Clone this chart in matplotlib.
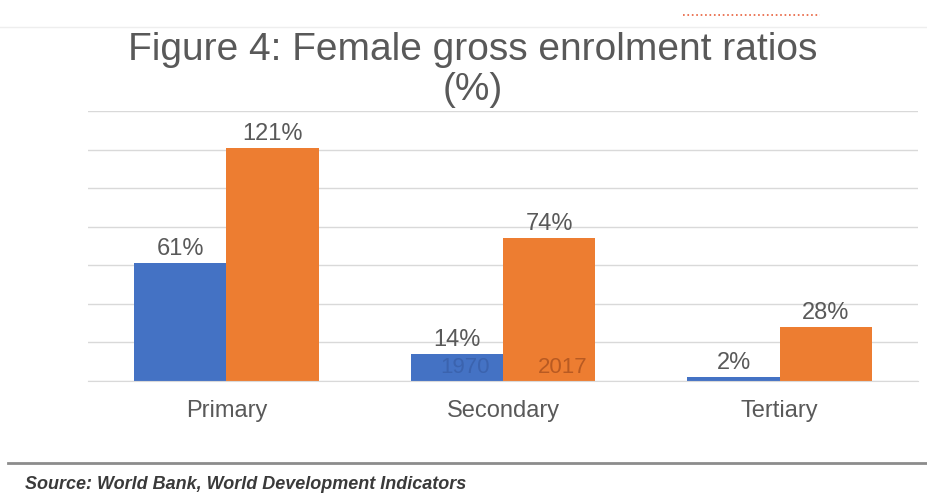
import numpy as np
import matplotlib.pyplot as plt
from matplotlib.lines import Line2D

plt.rcParams['font.family'] = ['Liberation Sans', 'DejaVu Sans']

categories = ['Primary', 'Secondary', 'Tertiary']
vals_1970 = [61, 14, 2]
vals_2017 = [121, 74, 28]
years = ['1970', '2017']

blue = '#4472C4'
orange = '#ED7D31'
grey = '#595959'

fig = plt.figure(figsize=(9.27, 4.98), dpi=100)
ax = fig.add_axes([88/927, 1-381/498, 830/927, 270/498])

x = np.arange(len(categories))
w = 1/3
b1 = ax.bar(x - w/2, vals_1970, w, color=blue, zorder=2)
b2 = ax.bar(x + w/2, vals_2017, w, color=orange, zorder=2)

for bars, vals in [(b1, vals_1970), (b2, vals_2017)]:
    for r, v in zip(bars, vals):
        ax.text(r.get_x() + r.get_width()/2, v + 1.5, f'{v}%', ha='center', va='bottom',
                fontsize=17, color=grey)

# series names written inside the secondary bars
ax.text(x[1] - w/2 + 0.03, 1.5, years[0], ha='center', va='bottom', fontsize=16, color='#3B63AE', zorder=3)
ax.text(x[1] + w/2 + 0.05, 1.5, years[1], ha='center', va='bottom', fontsize=16, color='#B85A22', zorder=3)

ax.set_ylim(0, 140)
ax.set_xlim(-0.5, 2.5)
ax.set_yticks(np.arange(0, 141, 20))
ax.yaxis.grid(True, color='#D9D9D9', linewidth=1, zorder=0)
ax.tick_params(axis='y', left=False, labelleft=False)
ax.tick_params(axis='x', length=0, pad=14, labelsize=17, labelcolor=grey)
ax.set_xticks(x)
ax.set_xticklabels(categories)
for s in ['top', 'right', 'left']:
    ax.spines[s].set_visible(False)
ax.spines['bottom'].set_color('#D9D9D9')

fig.text(473/927, 1-70/498, 'Figure 4: Female gross enrolment ratios\n(%)', ha='center', va='center',
         fontsize=28, color=grey, linespacing=1.15)

# page decorations
fig.add_artist(Line2D([683/927, 820/927], [1-15/498, 1-15/498], color='#E8603C', linestyle=':', linewidth=1.2))
fig.add_artist(Line2D([0, 1], [1-27/498, 1-27/498], color='#EEEEEE', linewidth=1))
fig.add_artist(Line2D([8/927, 1], [1-463/498, 1-463/498], color='#8C8C8C', linewidth=2))
fig.text(25/927, 1-484/498, 'Source: World Bank, World Development Indicators', ha='left', va='center',
         fontsize=13, style='italic', weight='bold', color='#3A3A3A')

plt.savefig('out.png', dpi=100)
